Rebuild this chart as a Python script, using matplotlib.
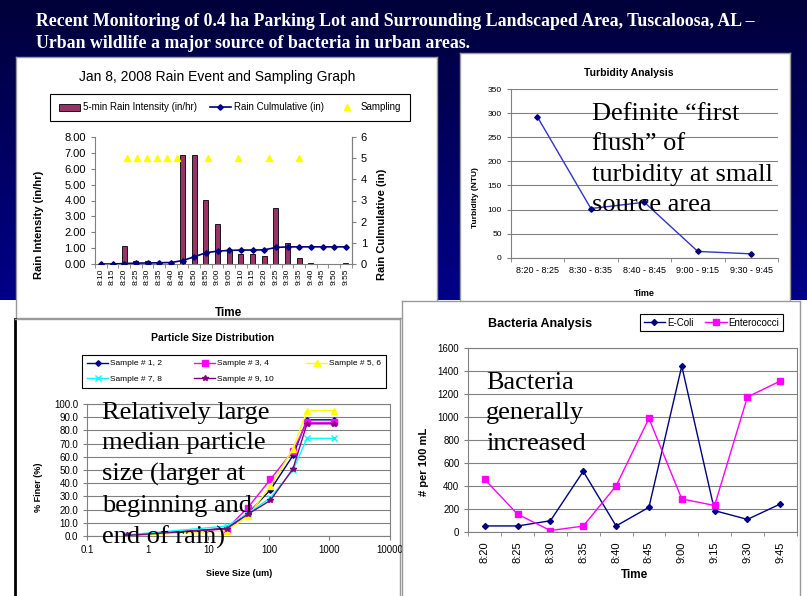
import numpy as np
import matplotlib
matplotlib.use('Agg')
import matplotlib.pyplot as plt
from matplotlib.colors import LinearSegmentedColormap
from matplotlib.ticker import FormatStrFormatter

plt.rcParams['font.family'] = ['Liberation Sans', 'DejaVu Sans']

# --- data ---
rain_times = ['8:10', '8:15', '8:20', '8:25', '8:30', '8:35', '8:40', '8:45', '8:50', '8:55', '9:00',
              '9:05', '9:10', '9:15', '9:20', '9:25', '9:30', '9:35', '9:40', '9:45', '9:50', '9:55']
rain_intensity = [0.0, 0.0, 1.15, 0.20, 0.20, 0.15, 0.02, 6.85, 6.85, 4.05, 2.55,
                  0.85, 0.65, 0.65, 0.50, 3.50, 1.35, 0.35, 0.08, 0.03, 0.03, 0.05]
rain_cum = [0.0, 0.0, 0.02, 0.04, 0.05, 0.06, 0.07, 0.16, 0.34, 0.53, 0.61,
            0.64, 0.66, 0.66, 0.67, 0.78, 0.81, 0.81, 0.81, 0.81, 0.81, 0.81]
sample_times = ['8:20', '8:25', '8:30', '8:35', '8:40', '8:45', '9:00', '9:15', '9:30', '9:45']
sampling = [5, 5, 5, 5, 5, 5, 5, 5, 5, 5]

turb_labels = ['8:20 - 8:25', '8:30 - 8:35', '8:40 - 8:45', '9:00 - 9:15', '9:30 - 9:45']
turbidity = [292, 102, 115, 13, 8]

sieve_um = [0.45, 20, 45, 106, 250, 425, 1180]
psd_1_2 = [0.5, 5.8, 17.0, 35.0, 61.0, 88.0, 88.0]
psd_3_4 = [0.0, 5.5, 21.5, 43.0, 64.5, 86.0, 86.0]
psd_5_6 = [0.3, 3.8, 15.0, 38.0, 66.0, 95.0, 95.0]
psd_7_8 = [0.8, 7.5, 17.0, 29.0, 50.0, 74.0, 74.0]
psd_9_10 = [0.4, 5.5, 16.5, 27.0, 51.0, 85.0, 85.0]

ecoli = [50, 50, 95, 525, 50, 212, 1440, 183, 107, 241]
entero = [455, 152, 10, 49, 398, 985, 285, 228, 1172, 1310]

W, H = 807, 596
fig = plt.figure(figsize=(W / 100, H / 100), dpi=100)


def fbox(x0, y0, x1, y1):
    return [x0 / W, 1 - y1 / H, (x1 - x0) / W, (y1 - y0) / H]


def fpt(x, y):
    return x / W, 1 - y / H


def panel(x0, y0, x1, y1, z, ec='#9a9a9a', lw=1.0):
    p = fig.add_axes(fbox(x0, y0, x1, y1), zorder=z)
    p.set_xticks([])
    p.set_yticks([])
    p.set_facecolor('white')
    for s in p.spines.values():
        s.set_edgecolor(ec)
        s.set_linewidth(lw)
    return p


def excel_axes(ax):
    for s in ax.spines.values():
        s.set_edgecolor('#808080')
        s.set_linewidth(0.8)
    ax.tick_params(colors='#808080', labelcolor='black', width=0.8)


# background: navy gradient on the upper part of the slide
bg = fig.add_axes([0, 0, 1, 1], zorder=-10)
bg.set_xlim(0, W)
bg.set_ylim(H, 0)
bg.axis('off')
navy = LinearSegmentedColormap.from_list('navy', ['#00003a', '#000088'])
bg.imshow(np.linspace(0, 1, 100).reshape(-1, 1), cmap=navy, aspect='auto', extent=[0, W, 300, 0])
bg.text(36, 21, 'Recent Monitoring of 0.4 ha Parking Lot and Surrounding Landscaped Area, Tuscaloosa, AL \u2013',
        color='white', fontsize=12.8, fontweight='bold', family='Liberation Serif', va='center')
bg.text(36, 43, 'Urban wildlife a major source of bacteria in urban areas.',
        color='white', fontsize=12.8, fontweight='bold', family='Liberation Serif', va='center')

# ---------------- rain event chart ----------------
panel(16, 57, 437, 318, 1)
ax = fig.add_axes(fbox(95, 137, 351.7, 264), zorder=2)
excel_axes(ax)
x = np.arange(len(rain_times))
bars = ax.bar(x, rain_intensity, width=0.45, color='#993366', edgecolor='black', linewidth=0.6,
              label='5-min Rain Intensity (in/hr)')
ax.set_xlim(-0.5, len(rain_times) - 0.5)
ax.set_ylim(0, 8)
ax.set_yticks(np.arange(0, 9))
ax.yaxis.set_major_formatter(FormatStrFormatter('%.2f'))
ax.set_xticks(x)
ax.set_xticklabels(rain_times, rotation=90, fontsize=6)
ax.set_xticks(np.arange(-0.5, len(rain_times)), minor=True)
ax.tick_params(axis='x', which='major', length=0, pad=3)
ax.tick_params(axis='x', which='minor', length=3, colors='#808080')
ax.tick_params(axis='y', labelsize=8, length=3)
ax.spines['top'].set_visible(False)
ax.set_ylabel('Rain Intensity (in/hr)', fontsize=8, fontweight='bold')
ax.yaxis.set_label_coords(-0.2, 0.31)
ax.set_xlabel('Time', fontsize=8.5, fontweight='bold')
ax.xaxis.set_label_coords(0.522, -0.339)

ax2 = ax.twinx()
ax2.set_zorder(2.1)
ax2.patch.set_visible(False)
excel_axes(ax2)
for s in ['top', 'left', 'bottom']:
    ax2.spines[s].set_visible(False)
line_cum, = ax2.plot(x, rain_cum, color='#000080', lw=1.2, marker='D', ms=2.8, label='Rain Culmulative (in)')
ax2.set_ylim(0, 6)
ax2.set_yticks(np.arange(0, 7))
ax2.tick_params(axis='y', labelsize=8, length=3)
ax2.set_ylabel('Rain Culmulative (in)', fontsize=8, fontweight='bold')
ax2.yaxis.set_label_coords(1.1, 0.31)

# sampling markers sit on their own minute scale (as in the Excel scatter series)
ax3 = ax2.twiny()
ax3.set_zorder(2.2)
ax3.patch.set_visible(False)
for s in ax3.spines.values():
    s.set_visible(False)
sample_min = [int(t.split(':')[0]) * 60 + int(t.split(':')[1]) - 480 for t in sample_times]
tri, = ax3.plot(sample_min, sampling, ls='none', marker='^', ms=4.5, color='#ffff00', label='Sampling')
ax3.set_xlim(4.4, 130.8)
ax3.xaxis.set_visible(False)

ax.text(*fpt(216.7, 76.7), 'Jan 8, 2008 Rain Event and Sampling Graph', transform=fig.transFigure,
        ha='center', va='center', fontsize=10)
leg = ax.legend([bars, line_cum, tri], ['5-min Rain Intensity (in/hr)', 'Rain Culmulative (in)', 'Sampling'],
                loc='center', bbox_to_anchor=fbox(45, 91.7, 415, 123.3), bbox_transform=fig.transFigure,
                mode='expand', ncol=3, fontsize=7, fancybox=False, edgecolor='black', framealpha=1,
                handlelength=2.2, handletextpad=0.3, borderpad=0.9)
leg.get_frame().set_linewidth(0.8)

# ---------------- turbidity chart ----------------
panel(460, 53, 790, 303, 3)
axT = fig.add_axes(fbox(510.7, 89, 778, 257.7), zorder=4)
excel_axes(axT)
xt = np.arange(len(turb_labels))
axT.plot(xt, turbidity, color='#3333cc', lw=1, marker='D', ms=2.8, mfc='#000080', mec='#000080')
axT.set_xlim(-0.5, len(turb_labels) - 0.5)
axT.set_ylim(0, 350)
axT.set_yticks(np.arange(0, 351, 50))
axT.grid(axis='y', color='#808080', lw=0.8)
axT.set_axisbelow(True)
axT.spines['top'].set_visible(False)
axT.spines['right'].set_visible(False)
axT.set_xticks(xt)
axT.set_xticklabels(turb_labels)
axT.set_xticks(np.arange(-0.5, len(turb_labels)), minor=True)
axT.tick_params(axis='x', which='major', length=0, labelsize=6.5, pad=6)
axT.tick_params(axis='x', which='minor', length=3, colors='#808080')
axT.tick_params(axis='y', labelsize=6, length=3)
axT.set_ylabel('Turbidity (NTU)', fontsize=6, fontweight='bold')
axT.yaxis.set_label_coords(-0.119, 0.354)
axT.set_xlabel('Time', fontsize=6.5, fontweight='bold')
axT.xaxis.set_label_coords(0.5, -0.186)
axT.text(*fpt(629, 73), 'Turbidity Analysis', transform=fig.transFigure, ha='center', va='center',
         fontsize=7.5, fontweight='bold')

# ---------------- particle size chart ----------------
pP = panel(15, 319, 400, 598, 5)
pP.spines['left'].set_edgecolor('black')
pP.spines['left'].set_linewidth(2)
axP = fig.add_axes(fbox(87.3, 404, 390, 536), zorder=6)
excel_axes(axP)
axP.set_xscale('log')
s12, = axP.plot(sieve_um, psd_1_2, color='#000080', lw=1, marker='D', ms=2.8)
s34, = axP.plot(sieve_um, psd_3_4, color='#ff00ff', lw=1, marker='s', ms=3.8)
s56, = axP.plot(sieve_um, psd_5_6, color='#ffff00', lw=1, marker='^', ms=4)
s78, = axP.plot(sieve_um, psd_7_8, color='#00ffff', lw=1, marker='x', ms=4)
s910, = axP.plot(sieve_um, psd_9_10, color='#800080', lw=1, marker='*', ms=4)
axP.set_xlim(0.1, 10000)
axP.set_ylim(0, 100)
axP.set_yticks(np.arange(0, 101, 10))
axP.yaxis.set_major_formatter(FormatStrFormatter('%.1f'))
axP.set_xticks([0.1, 1, 10, 100, 1000, 10000])
axP.set_xticklabels(['0.1', '1', '10', '100', '1000', '10000'])
axP.xaxis.set_minor_locator(matplotlib.ticker.NullLocator())
axP.grid(axis='y', color='#808080', lw=0.8)
axP.set_axisbelow(True)
axP.tick_params(axis='both', labelsize=7, length=3)
axP.set_ylabel('% Finer (%)', fontsize=6.5, fontweight='bold')
axP.yaxis.set_label_coords(-0.148, 0.367)
axP.set_xlabel('Sieve Size (um)', fontsize=6.5, fontweight='bold')
axP.xaxis.set_label_coords(0.501, -0.25)
axP.text(*fpt(213, 338), 'Particle Size Distribution', transform=fig.transFigure, ha='center', va='center',
         fontsize=7.5, fontweight='bold')
legP = axP.legend([s12, s78, s34, s910, s56],
                  ['Sample # 1, 2', 'Sample # 7, 8', 'Sample # 3, 4', 'Sample # 9, 10', 'Sample # 5, 6'],
                  loc='center', bbox_to_anchor=fbox(78, 350.7, 390, 391.7), bbox_transform=fig.transFigure,
                  mode='expand', ncol=3, fontsize=6, fancybox=False, edgecolor='black', framealpha=1,
                  handlelength=2.5, handletextpad=0.2, borderpad=0.6, labelspacing=0.9)
legP.get_frame().set_linewidth(0.8)

# ---------------- bacteria chart ----------------
panel(402, 301, 800, 598, 7)
axB = fig.add_axes(fbox(468.3, 347.7, 796.7, 531.7), zorder=8)
excel_axes(axB)
xb = np.arange(len(sample_times))
l_ec, = axB.plot(xb, ecoli, color='#000080', lw=1, marker='D', ms=3)
l_en, = axB.plot(xb, entero, color='#ff00ff', lw=1, marker='s', ms=4.5)
axB.set_xlim(-0.5, len(sample_times) - 0.5)
axB.set_ylim(0, 1600)
axB.set_yticks(np.arange(0, 1601, 200))
axB.grid(axis='y', color='#808080', lw=0.8)
axB.set_axisbelow(True)
axB.set_xticks(xb)
axB.set_xticklabels(sample_times, rotation=90)
axB.set_xticks(np.arange(-0.5, len(sample_times)), minor=True)
axB.tick_params(axis='x', which='major', length=0, labelsize=8, pad=7)
axB.tick_params(axis='x', which='minor', length=3, colors='#808080')
axB.tick_params(axis='y', labelsize=7, length=3)
axB.set_ylabel('# per 100 mL', fontsize=8, fontweight='bold')
axB.yaxis.set_label_coords(-0.121, 0.38)
axB.set_xlabel('Time', fontsize=8.5, fontweight='bold')
axB.xaxis.set_label_coords(0.507, -0.203)
axB.text(*fpt(540, 324), 'Bacteria Analysis', transform=fig.transFigure, ha='center', va='center',
         fontsize=9, fontweight='bold')
legB = axB.legend([l_ec, l_en], ['E-Coli', 'Enterococci'],
                  loc='center', bbox_to_anchor=fbox(635, 312, 788, 333), bbox_transform=fig.transFigure,
                  mode='expand', ncol=2, fontsize=7, fancybox=False, edgecolor='black', framealpha=1,
                  handlelength=2.2, handletextpad=0.2, borderpad=0.4, columnspacing=0.5)
legB.get_frame().set_linewidth(0.8)

# ---------------- slide call-outs ----------------
callout = dict(family='Liberation Serif', fontsize=19, color='black', ha='left', va='top',
               linespacing=1.5, zorder=20, transform=fig.transFigure)
fig.text(*fpt(591.7, 103), 'Definite \u201cfirst\nflush\u201d of\nturbidity at small\nsource area', **callout)
fig.text(*fpt(101.7, 402), 'Relatively large\nmedian particle\nsize (larger at\nbeginning and\nend of rain)', **callout)
fig.text(*fpt(486, 372), 'Bacteria\ngenerally\nincreased', **callout)

fig.savefig('out.png', dpi=100)
